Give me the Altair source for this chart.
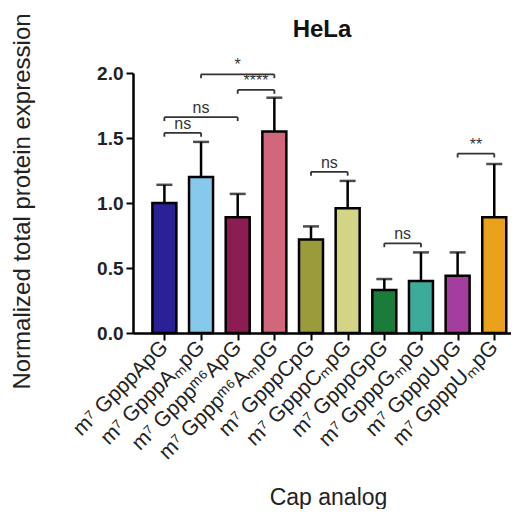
import altair as alt
import pandas as pd

labels = ["m⁷ GpppApG", "m⁷ GpppAₘpG", "m⁷ Gpppᵐ⁶ApG", "m⁷ Gpppᵐ⁶AₘpG", "m⁷ GpppCpG",
          "m⁷ GpppCₘpG", "m⁷ GpppGpG", "m⁷ GpppGₘpG", "m⁷ GpppUpG", "m⁷ GpppUₘpG"]
means = [1.00, 1.20, 0.89, 1.55, 0.72, 0.96, 0.33, 0.40, 0.44, 0.89]
tops = [1.14, 1.47, 1.07, 1.81, 0.82, 1.17, 0.415, 0.62, 0.62, 1.30]
colors = ["#2b2196", "#86c9ec", "#8b1d52", "#d0677a", "#9b9b3b",
          "#d3d486", "#1b7b3b", "#3cab99", "#a43e9e", "#e9a21a"]

br_from = [0, 0, 2, 1, 4, 6, 8]
br_to = [1, 2, 3, 3, 5, 7, 9]
br_y = [1.54, 1.66, 1.87, 1.99, 1.24, 0.69, 1.38]
br_text = ["ns", "ns", "****", "*", "ns", "ns", "**"]

df = pd.DataFrame({"i": list(range(len(labels))), "label": labels, "mean": means,
                   "top": tops, "color": colors})
br = pd.DataFrame({"x1": br_from, "x2": br_to, "y": br_y, "t": br_text})
br["xm"] = (br["x1"] + br["x2"]) / 2
ends = pd.DataFrame({"x": br_from + br_to, "y": br_y + br_y})
ends["y2"] = ends["y"] - 0.03

FONT = "Liberation Sans"
label_arr = "[" + ",".join("'" + l + "'" for l in labels) + "]"

xscale = alt.Scale(domain=[-0.72, 9.32], nice=False, zero=False)
yscale = alt.Scale(domain=[0, 2], nice=False)

xaxis = alt.Axis(values=list(range(10)), labelExpr=label_arr + "[datum.value]",
                 labelAngle=-45, labelAlign="right", labelBaseline="middle",
                 labelFontSize=21, labelFont=FONT, labelColor="#222", labelPadding=4,
                 tickSize=7, tickWidth=2, tickColor="black", domainWidth=2.5, domainColor="black",
                 grid=False, title="Cap analog", titleFont=FONT, titleFontSize=23,
                 titleFontWeight="normal", titleColor="#222", titleX=195, titleY=171,
                 titleBaseline="alphabetic", titleAnchor="middle", labelOverlap=False)
yaxis = alt.Axis(values=[0, 0.5, 1.0, 1.5, 2.0], format=".1f", labelFontSize=19,
                 labelFontWeight="bold", labelFont=FONT, labelColor="#222", labelPadding=3,
                 tickSize=7, tickWidth=2, tickColor="black", domainWidth=2.5, domainColor="black",
                 grid=False, title="Normalized total protein expression", titleFont=FONT,
                 titleFontSize=24, titleFontWeight="normal", titleColor="#222",
                 titleX=-111, titleY=128, titleAngle=-90, titleBaseline="middle", titleAlign="center")

base = alt.Chart(df)
bars = base.mark_bar(size=24, stroke="black", strokeWidth=2.5).encode(
    x=alt.X("i:Q", scale=xscale, axis=xaxis),
    y=alt.Y("mean:Q", scale=yscale, axis=yaxis),
    color=alt.Color("label:N", scale=alt.Scale(domain=labels, range=colors), legend=None),
)
err = base.mark_rule(color="black", strokeWidth=2.5).encode(
    x=alt.X("i:Q", scale=xscale), y=alt.Y("mean:Q", scale=yscale), y2="top:Q")
caps = base.mark_tick(color="black", size=16, thickness=2.5, orient="horizontal").encode(
    x=alt.X("i:Q", scale=xscale), y=alt.Y("top:Q", scale=yscale))

bline = alt.Chart(br).mark_rule(color="#333", strokeWidth=1.8).encode(
    x=alt.X("x1:Q", scale=xscale), x2="x2:Q", y=alt.Y("y:Q", scale=yscale))
bend = alt.Chart(ends).mark_rule(color="#333", strokeWidth=1.8).encode(
    x=alt.X("x:Q", scale=xscale), y=alt.Y("y:Q", scale=yscale), y2="y2:Q")
btext = alt.Chart(br).mark_text(font=FONT, fontSize=16, color="#333", baseline="alphabetic", dy=-4).encode(
    x=alt.X("xm:Q", scale=xscale), y=alt.Y("y:Q", scale=yscale), text="t:N")

chart = alt.layer(bars, err, caps, bline, bend, btext).properties(
    width=378, height=260,
    title=alt.Title("HeLa", font=FONT, fontSize=24, fontWeight="bold", color="#111",
                    anchor="middle", offset=2, baseline="bottom", dy=55),
    autosize=alt.AutoSizeParams(type="none"),
    padding={"left": 125, "top": 65, "right": 0, "bottom": 176},
).configure_view(stroke=None)

chart.save("out.html", embed_options={"renderer": "svg", "actions": False})
